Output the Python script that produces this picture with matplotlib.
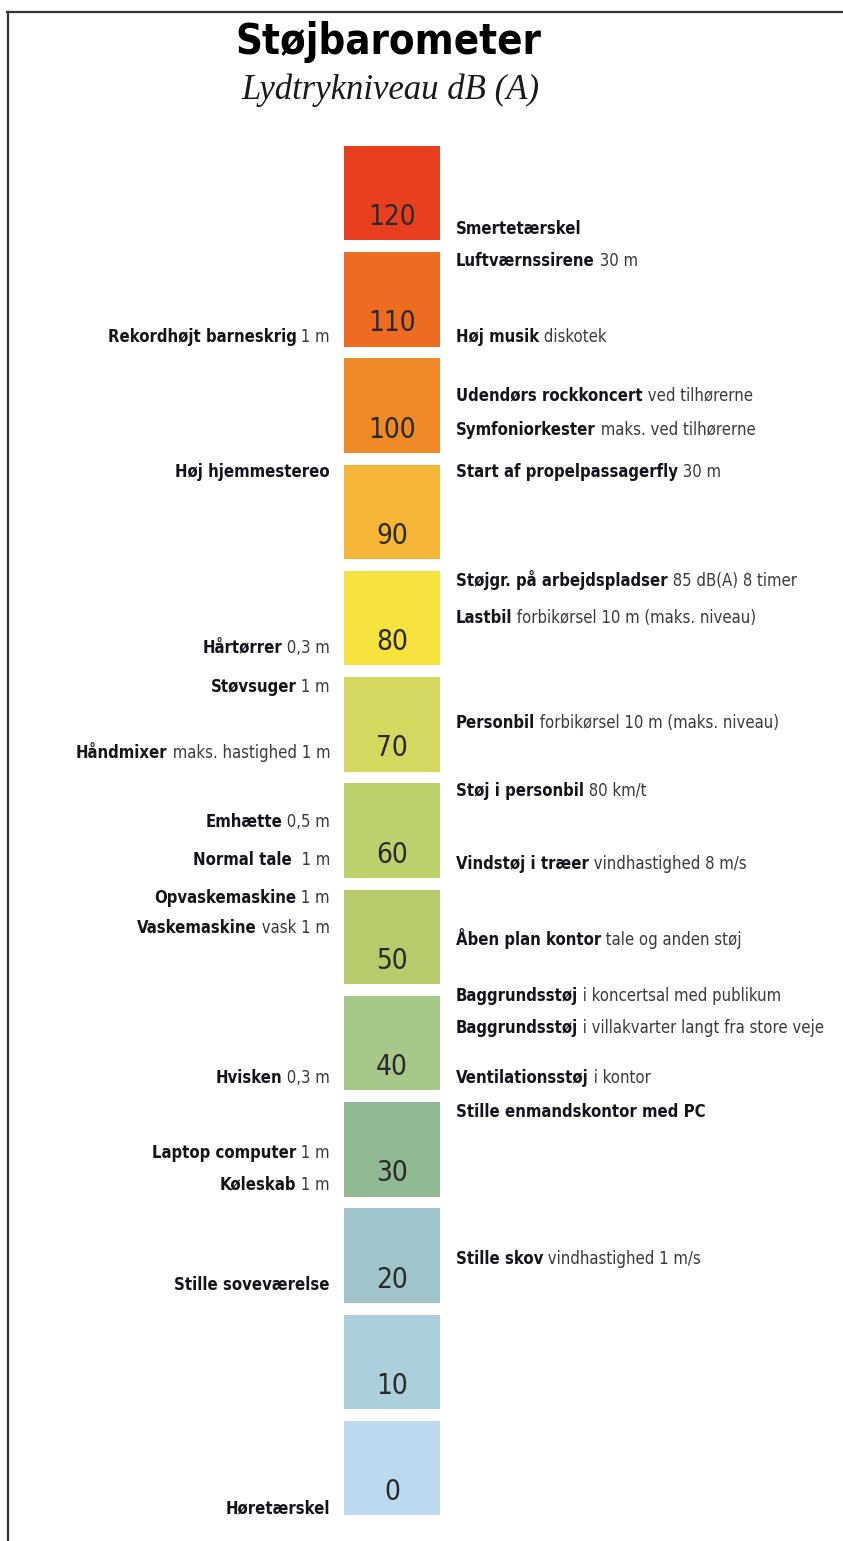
import matplotlib
matplotlib.use('Agg')
import matplotlib.pyplot as plt
from matplotlib.lines import Line2D

# noise levels on the barometer, dB(A)
levels = [120, 110, 100, 90, 80, 70, 60, 50, 40, 30, 20, 10, 0]
colors = ['#e8401f', '#ee6b22', '#f08a27', '#f5b536', '#f5e23c', '#d5d85e',
          '#bcd16b', '#b8cb6c', '#a6c889', '#91b992', '#9fc5cb', '#accfdc', '#bdd9f0']

# examples, (bold part, normal part, level in dB)
right_labels = [
    ('Smertetærskel', '', 118.9),
    ('Luftværnssirene', ' 30 m', 115.9),
    ('Høj musik', ' diskotek', 108.7),
    ('Udendørs rockkoncert', ' ved tilhørerne', 103.2),
    ('Symfoniorkester', ' maks. ved tilhørerne', 100.0),
    ('Start af propelpassagerfly', ' 30 m', 96.0),
    ('Støjgr. på arbejdspladser', ' 85 dB(A) 8 timer', 85.8),
    ('Lastbil', ' forbikørsel 10 m (maks. niveau)', 82.3),
    ('Personbil', ' forbikørsel 10 m (maks. niveau)', 72.4),
    ('Støj i personbil', ' 80 km/t', 66.0),
    ('Vindstøj i træer', ' vindhastighed 8 m/s', 59.1),
    ('Åben plan kontor', ' tale og anden støj', 52.1),
    ('Baggrundsstøj', ' i koncertsal med publikum', 46.7),
    ('Baggrundsstøj', ' i villakvarter langt fra store veje', 43.7),
    ('Ventilationsstøj', ' i kontor', 39.0),
    ('Stille enmandskontor med PC', '', 35.8),
    ('Stille skov', ' vindhastighed 1 m/s', 21.9),
]
left_labels = [
    ('Rekordhøjt barneskrig', ' 1 m', 108.7),
    ('Høj hjemmestereo', '', 96.0),
    ('Hårtørrer', ' 0,3 m', 79.4),
    ('Støvsuger', ' 1 m', 75.8),
    ('Håndmixer', ' maks. hastighed 1 m', 69.6),
    ('Emhætte', ' 0,5 m', 63.1),
    ('Normal tale', '  1 m', 59.5),
    ('Opvaskemaskine', ' 1 m', 55.9),
    ('Vaskemaskine', ' vask 1 m', 53.1),
    ('Hvisken', ' 0,3 m', 39.0),
    ('Laptop computer', ' 1 m', 31.9),
    ('Køleskab', ' 1 m', 28.9),
    ('Stille soveværelse', '', 19.5),
    ('Høretærskel', '', -1.5),
]

narrow = dict(family='DejaVu Sans', fontstretch='condensed')
px_per_db = 10.625
W, H = 843, 1541

fig = plt.figure(figsize=(W / 100, H / 100), dpi=100)
ax = fig.add_axes([0, 0, 1, 1])
ax.set_xlim(0, W)
ax.set_ylim((1492 - H) / px_per_db, 1492 / px_per_db)
ax.axis('off')

# the coloured scale
ax.bar([392] * len(levels), [8.9] * len(levels), bottom=[v - 2.2 for v in levels],
       width=96, color=colors, edgecolor='none')
for v in levels:
    ax.text(392, v, str(v), ha='center', va='center', fontsize=20,
            color='#2a2a2a', **narrow)

bold_c = '#14141e'
norm_c = '#3a3a3a'
fs = 12

for b, n, v in right_labels:
    t = ax.text(456, v, b, ha='left', va='center', fontsize=fs,
                fontweight='bold', color=bold_c, **narrow)
    if n:
        ax.annotate(n, xy=(1, 0), xycoords=t, ha='left', va='bottom',
                    fontsize=fs, color=norm_c, **narrow)

for b, n, v in left_labels:
    if n:
        t = ax.text(330, v, n, ha='right', va='center', fontsize=fs,
                    color=norm_c, **narrow)
        ax.annotate(b, xy=(0, 0), xycoords=t, ha='right', va='bottom',
                    fontsize=fs, fontweight='bold', color=bold_c, **narrow)
    else:
        ax.text(330, v, b, ha='right', va='center', fontsize=fs,
                fontweight='bold', color=bold_c, **narrow)

# title and subtitle
fig.text(388 / W, 1 - 42 / H, 'Støjbarometer', ha='center', va='center',
         fontsize=30, fontweight='bold', color='black', **narrow)
fig.text(390 / W, 1 - 90 / H, 'Lydtrykniveau dB (A)', ha='center', va='center',
         fontsize=25, style='italic', family=['Liberation Serif', 'DejaVu Serif'],
         color='#1a1a1a')

# frame lines on top and left
fig.add_artist(Line2D([7 / W, 1], [1 - 12 / H, 1 - 12 / H], color='#333333', lw=1.6))
fig.add_artist(Line2D([8 / W, 8 / W], [0, 1 - 12 / H], color='#333333', lw=1.6))

fig.savefig('out.png', dpi=100)
